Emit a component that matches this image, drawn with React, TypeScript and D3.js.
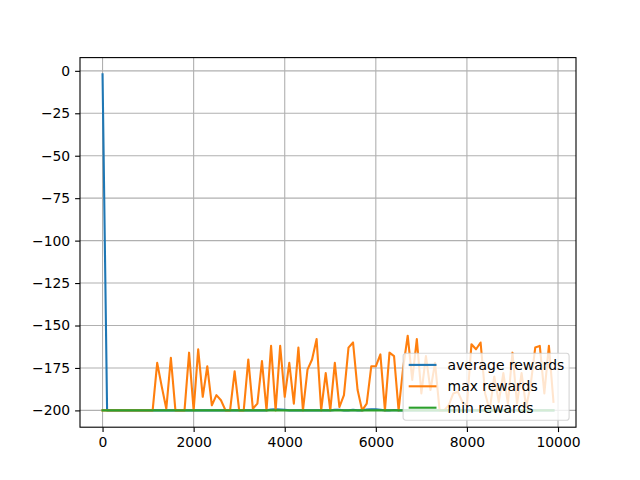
import React, { useEffect, useRef } from 'react';
import * as d3 from 'd3';

// episodes logged every 100 steps
const episodes = d3.range(0, 10000, 100);

const averageRewards = [
  -2.1, -200, -200, -200, -200, -200, -200, -200, -200, -200,
  -200, -200, -200, -200, -200, -200, -200, -200, -200, -200,
  -200, -200, -200, -200, -200, -200, -200, -200, -200, -200,
  -200, -200, -200, -200, -200, -200, -200, -199.5, -199.4, -199.5,
  -199.7, -200, -200, -200, -200, -200, -200, -200, -200, -200,
  -200, -199.7, -199.6, -200, -200, -199.7, -200, -200, -199.5, -199.3,
  -199.4, -199.6, -200, -200, -199.8, -200, -200, -200, -200, -200,
  -200, -200, -200, -200, -200, -200, -200, -200, -200, -200,
  -200, -200, -200, -200, -200, -200, -200, -200, -200, -200,
  -200, -200, -200, -200, -200, -200, -200, -200, -200, -200,
];

const maxRewards = [
  -200, -200, -200, -200, -200, -200, -200, -200, -200, -200,
  -200, -200, -172, -186, -199, -169, -200, -200, -200, -166,
  -200, -164, -192, -174, -197, -191, -194, -200, -200, -177,
  -200, -200, -170, -199, -196, -171, -200, -162, -200, -162,
  -192, -172, -196, -163, -200, -176, -170, -158, -200, -178,
  -200, -172, -198, -191, -163, -160, -188, -200, -196, -174,
  -174, -167, -200, -166, -168, -200, -175, -156, -182, -158,
  -190, -168, -188, -172, -200, -200, -197, -190, -189, -195,
  -197, -161, -164, -160, -190, -200, -180, -195, -178, -196,
  -166, -196, -178, -198, -185, -163, -162, -190, -162, -195,
];

const minRewards = [
  -200, -200, -200, -200, -200, -200, -200, -200, -200, -200,
  -200, -200, -200, -200, -200, -200, -200, -200, -200, -200,
  -200, -200, -200, -200, -200, -200, -200, -200, -200, -200,
  -200, -200, -200, -200, -200, -200, -200, -200, -200, -200,
  -200, -200, -200, -200, -200, -200, -200, -200, -200, -200,
  -200, -200, -200, -200, -200, -200, -200, -200, -200, -200,
  -200, -200, -200, -200, -200, -200, -200, -200, -200, -200,
  -200, -200, -200, -200, -200, -200, -200, -200, -200, -200,
  -200, -200, -200, -200, -200, -200, -200, -200, -200, -200,
  -200, -200, -200, -200, -200, -200, -200, -200, -200, -200,
];

const xTicks = [0, 2000, 4000, 6000, 8000, 10000];
const yTicks = [0, -25, -50, -75, -100, -125, -150, -175, -200];

const seriesNames = ['average rewards', 'max rewards', 'min rewards'];
const seriesColors = ['#1f77b4', '#ff7f0e', '#2ca02c'];

const App = () => {
  const svgRef = useRef<SVGSVGElement | null>(null);

  useEffect(() => {
    document.body.style.margin = '0';
    if (!svgRef.current) return;

    d3.select(svgRef.current).selectAll('*').remove();

    const width = 640;
    const height = 480;
    const margin = { top: 57.6, right: 64, bottom: 52.8, left: 80 };
    const fontSize = 13.9;
    const font = '"DejaVu Sans", sans-serif';

    const svg = d3.select(svgRef.current)
      .attr('width', width)
      .attr('height', height);

    svg.append('rect')
      .attr('width', width)
      .attr('height', height)
      .attr('fill', '#ffffff');

    const chartWidth = width - margin.left - margin.right;
    const chartHeight = height - margin.top - margin.bottom;

    // matplotlib style 5% padding around data
    const allValues = [...averageRewards, ...maxRewards, ...minRewards];
    const [xMin, xMax] = d3.extent(episodes) as [number, number];
    const [yMin, yMax] = d3.extent(allValues) as [number, number];
    const xPad = (xMax - xMin) * 0.05;
    const yPad = (yMax - yMin) * 0.05;

    const xScale = d3.scaleLinear()
      .domain([xMin - xPad, xMax + xPad])
      .range([0, chartWidth]);

    const yScale = d3.scaleLinear()
      .domain([yMin - yPad, yMax + yPad])
      .range([chartHeight, 0]);

    const g = svg.append('g')
      .attr('transform', `translate(${margin.left}, ${margin.top})`);

    // grid
    g.selectAll('.xgrid')
      .data(xTicks)
      .enter()
      .append('line')
      .attr('x1', d => xScale(d))
      .attr('x2', d => xScale(d))
      .attr('y1', 0)
      .attr('y2', chartHeight)
      .attr('stroke', '#b0b0b0')
      .attr('stroke-width', 1.1);

    g.selectAll('.ygrid')
      .data(yTicks)
      .enter()
      .append('line')
      .attr('x1', 0)
      .attr('x2', chartWidth)
      .attr('y1', d => yScale(d))
      .attr('y2', d => yScale(d))
      .attr('stroke', '#b0b0b0')
      .attr('stroke-width', 1.1);

    svg.append('defs')
      .append('clipPath')
      .attr('id', 'plot-clip')
      .append('rect')
      .attr('width', chartWidth)
      .attr('height', chartHeight);

    const line = d3.line<number>()
      .x((_, i) => xScale(episodes[i]))
      .y(d => yScale(d));

    const series = [averageRewards, maxRewards, minRewards];
    series.forEach((values, i) => {
      g.append('path')
        .datum(values)
        .attr('clip-path', 'url(#plot-clip)')
        .attr('fill', 'none')
        .attr('stroke', seriesColors[i])
        .attr('stroke-width', 2.1)
        .attr('stroke-linejoin', 'round')
        .attr('stroke-linecap', 'square')
        .attr('d', line);
    });

    // axes
    const xAxis = g.append('g')
      .attr('transform', `translate(0, ${chartHeight})`)
      .call(d3.axisBottom(xScale).tickValues(xTicks).tickSize(4.9).tickPadding(4.9).tickFormat(d3.format('d')) as any);

    const yAxis = g.append('g')
      .call(d3.axisLeft(yScale).tickValues(yTicks).tickSize(4.9).tickPadding(4.9).tickFormat(d3.format('d')) as any);

    [xAxis, yAxis].forEach(ax => {
      ax.select('.domain').remove();
      ax.selectAll('line').attr('stroke', '#000').attr('stroke-width', 1.1);
      ax.selectAll('text')
        .attr('fill', '#000')
        .style('font-family', font)
        .style('font-size', `${fontSize}px`);
    });

    // spines
    g.append('rect')
      .attr('width', chartWidth)
      .attr('height', chartHeight)
      .attr('fill', 'none')
      .attr('stroke', '#000')
      .attr('stroke-width', 1.1);

    // legend, lower right
    const legendW = 166;
    const legendH = 67;
    const legendX = chartWidth - 6.9 - legendW;
    const legendY = chartHeight - 6.9 - legendH;

    const legend = g.append('g')
      .attr('transform', `translate(${legendX}, ${legendY})`);

    legend.append('rect')
      .attr('width', legendW)
      .attr('height', legendH)
      .attr('rx', 2.8)
      .attr('fill', '#ffffff')
      .attr('fill-opacity', 0.8)
      .attr('stroke', '#cccccc')
      .attr('stroke-opacity', 0.8)
      .attr('stroke-width', 1.1);

    seriesNames.forEach((name, i) => {
      const cy = 11.6 + i * 21.4;
      legend.append('line')
        .attr('x1', 5.6)
        .attr('x2', 33.4)
        .attr('y1', cy)
        .attr('y2', cy)
        .attr('stroke', seriesColors[i])
        .attr('stroke-width', 2.1);
      legend.append('text')
        .attr('x', 44.5)
        .attr('y', cy)
        .attr('dy', '0.36em')
        .attr('fill', '#000')
        .style('font-family', font)
        .style('font-size', `${fontSize}px`)
        .text(name);
    });
  }, []);

  return (
    <div>
      <svg ref={svgRef} style={{ display: 'block' }}></svg>
    </div>
  );
};

export default App;
